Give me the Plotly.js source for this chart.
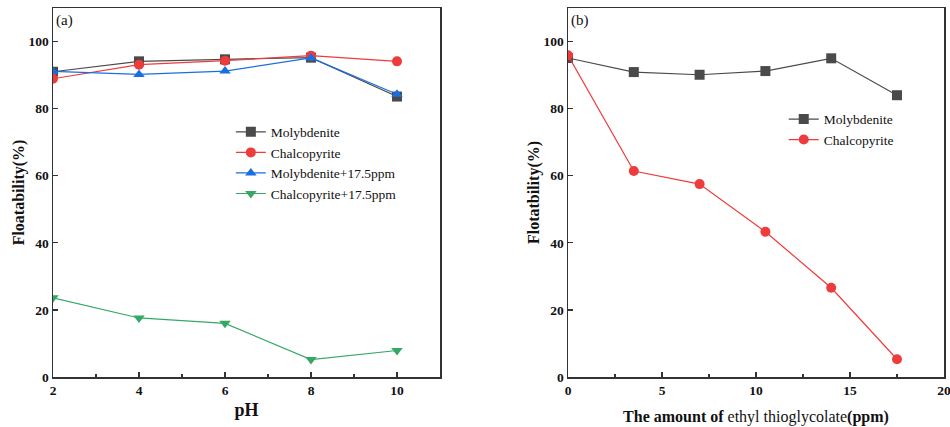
<!DOCTYPE html>
<html>
<head>
<meta charset="utf-8">
<script src="https://cdn.plot.ly/plotly-3.0.1.min.js"></script>
<style>html,body{margin:0;padding:0;background:#fff;}#chart{width:950px;height:427px;}</style>
</head>
<body>
<div id="chart"></div>
<script>
// Panel (a): floatability vs pH
const pH = [2, 4, 6, 8, 10];
const molyA = [91.0, 94.1, 94.7, 95.2, 83.6];
const chalcoA = [88.9, 93.1, 94.3, 95.8, 94.1];
const molyA175 = [91.1, 90.2, 91.2, 95.1, 84.3];
const chalcoA175 = [23.6, 17.6, 16.0, 5.2, 7.9];
const namesA = ["Molybdenite", "Chalcopyrite", "Molybdenite+17.5ppm", "Chalcopyrite+17.5ppm"];

// Panel (b): floatability vs amount of ethyl thioglycolate (ppm)
const ppm = [0, 3.5, 7, 10.5, 14, 17.5];
const molyB = [95.1, 90.9, 90.1, 91.2, 95.0, 84.0];
const chalcoB = [95.9, 61.4, 57.5, 43.3, 26.6, 5.3];
const namesB = ["Molybdenite", "Chalcopyrite"];

const C_MOLY = "#4a4a4a", C_CHALCO = "#ee3b3b", C_BLUE = "#1a6fe0", C_GREEN = "#36a865";
const FONT = "Liberation Serif";

function tr(x, y, name, color, symbol, xa, ya, leg) {
  return {x: x, y: y, name: name, type: "scatter", mode: "lines+markers",
    line: {color: color, width: 1.2},
    marker: {color: color, symbol: symbol, size: 10},
    xaxis: xa, yaxis: ya, legend: leg};
}

const data = [
  tr(pH, molyA, namesA[0], C_MOLY, "square", "x", "y", "legend"),
  tr(pH, chalcoA, namesA[1], C_CHALCO, "circle", "x", "y", "legend"),
  tr(pH, molyA175, namesA[2], C_BLUE, "triangle-up", "x", "y", "legend"),
  tr(pH, chalcoA175, namesA[3], C_GREEN, "triangle-down", "x", "y", "legend"),
  tr(ppm, molyB, namesB[0], C_MOLY, "square", "x2", "y2", "legend2"),
  tr(ppm, chalcoB, namesB[1], C_CHALCO, "circle", "x2", "y2", "legend2")
];

const axBase = {
  showline: true, linecolor: "#333", linewidth: 1.5, mirror: true,
  ticks: "inside", ticklen: 5, tickcolor: "#333", tickwidth: 1.2,
  showgrid: false, zeroline: false, automargin: false, ticklabeloverflow: "allow",
  tickfont: {family: FONT, size: 13.5, color: "#111", weight: "bold"}
};

const layout = {
  width: 950, height: 427,
  margin: {l: 0, r: 0, t: 0, b: 0},
  paper_bgcolor: "#fff", plot_bgcolor: "#fff",
  font: {family: FONT, color: "#111"},
  xaxis: Object.assign({}, axBase, {
    domain: [53/950, 440/950], range: [2, 11], tickvals: [2, 4, 6, 8, 10],
    minor: {dtick: 1, tick0: 1, ticks: "inside", ticklen: 3, tickcolor: "#333"},
    title: {text: "<b>pH</b>", font: {family: FONT, size: 18}, standoff: 6}
  }),
  yaxis: Object.assign({}, axBase, {
    domain: [50/427, 419/427], range: [0, 110], tickvals: [0, 20, 40, 60, 80, 100],
    title: {text: "<b>Floatability(%)</b>", font: {family: FONT, size: 16}, standoff: 0}
  }),
  xaxis2: Object.assign({}, axBase, {
    domain: [568/950, 944/950], range: [0, 20], tickvals: [0, 5, 10, 15, 20],
    anchor: "y2",
    minor: {dtick: 2.5, tick0: 0, ticks: "inside", ticklen: 3, tickcolor: "#333"},
    title: {text: "<b>The amount of</b> ethyl thioglycolate<b>(ppm)</b>", font: {family: FONT, size: 16}, standoff: 14}
  }),
  yaxis2: Object.assign({}, axBase, {
    domain: [50/427, 419/427], range: [0, 110], tickvals: [0, 20, 40, 60, 80, 100],
    anchor: "x2",
    title: {text: "<b>Flotatbility(%)</b>", font: {family: FONT, size: 16}, standoff: 0}
  }),
  legend: {x: 0.243, y: 0.727, xanchor: "left", yanchor: "top",
    bgcolor: "rgba(0,0,0,0)", font: {family: FONT, size: 13.5, color: "#111"},
    tracegroupgap: 0, itemwidth: 30},
  legend2: {x: 0.825, y: 0.757, xanchor: "left", yanchor: "top",
    bgcolor: "rgba(0,0,0,0)", font: {family: FONT, size: 13.5, color: "#111"},
    tracegroupgap: 0, itemwidth: 30},
  annotations: [
    {text: "(a)", xref: "paper", yref: "paper", x: 54/950, y: 1 - 10/427, xanchor: "left", yanchor: "top",
     showarrow: false, font: {family: FONT, size: 15, color: "#111"}},
    {text: "(b)", xref: "paper", yref: "paper", x: 569/950, y: 1 - 10/427, xanchor: "left", yanchor: "top",
     showarrow: false, font: {family: FONT, size: 15, color: "#111"}}
  ],
  showlegend: true
};

Plotly.newPlot("chart", data, layout, {displayModeBar: false, staticPlot: true});
</script>
</body>
</html>
